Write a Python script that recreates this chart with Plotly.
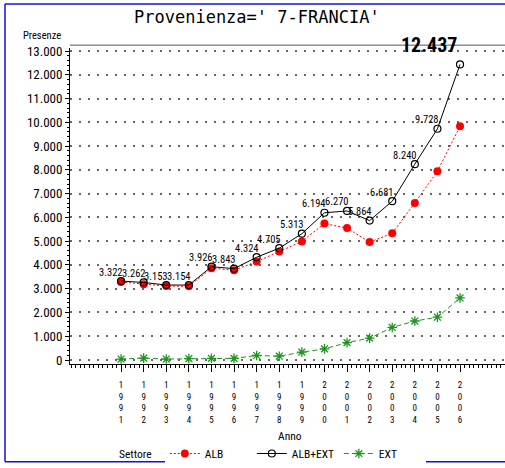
import plotly.graph_objects as go

years = list(range(1991, 2007))
alb_ext = [3322, 3262, 3153, 3154, 3926, 3843, 4324, 4705, 5313, 6194, 6270, 5864, 6681, 8240, 9728, 12437]
alb = [3280, 3190, 3110, 3100, 3860, 3780, 4140, 4560, 4990, 5740, 5550, 4960, 5330, 6610, 7940, 9830]
ext = [40, 80, 40, 60, 70, 70, 190, 160, 330, 470, 730, 920, 1370, 1640, 1800, 2610]
xtick_text = ["<br>".join(str(y)) for y in years]

NARROW = "Roboto Condensed, DejaVu Sans Condensed, sans-serif"

def fmt(v):
    return f"{v:,}".replace(",", ".")

fig = go.Figure()
fig.add_trace(go.Scatter(
    x=years, y=alb, name="ALB", mode="lines+markers",
    line=dict(color="#ff0000", width=1, dash="2px,2px"),
    marker=dict(symbol="circle", size=8, color="#ff0000"),
))
fig.add_trace(go.Scatter(
    x=years, y=alb_ext, name="ALB+EXT", mode="lines+markers",
    line=dict(color="#000000", width=1),
    marker=dict(symbol="circle-open", size=7, color="#000000", line=dict(width=1.2)),
))
fig.add_trace(go.Scatter(
    x=years, y=ext, name="EXT", mode="lines+markers",
    line=dict(color="#1e961e", width=1, dash="5px,3px"),
    marker=dict(symbol="asterisk-open", size=8, color="#1e961e", line=dict(width=1.3, color="#1e961e")),
))

annotations = []
for yr, v in zip(years[:-1], alb_ext[:-1]):
    annotations.append(dict(x=yr, y=v, xref="x", yref="y", text=fmt(v), showarrow=False,
                            xanchor="center", yanchor="middle", xshift=-10, yshift=9,
                            font=dict(family=NARROW, size=10.5, color="#000")))
annotations.append(dict(x=years[-1], y=1.0095, xref="x", yref="paper", text="<b>" + fmt(alb_ext[-1]) + "</b>",
                        showarrow=False, xanchor="center", yanchor="middle", xshift=-31,
                        font=dict(family=NARROW, size=20, color="#000")))
annotations.append(dict(x=-0.015, y=1.012, xref="paper", yref="paper", text="Presenze", showarrow=False,
                        xanchor="right", yanchor="bottom", font=dict(family=NARROW, size=10.5, color="#000")))
annotations.append(dict(x=0.505, y=-0.228, xref="paper", yref="paper", text="Anno", showarrow=False,
                        xanchor="center", yanchor="middle", font=dict(family=NARROW, size=11.5, color="#000")))
annotations.append(dict(x=0.108, y=-0.284, xref="paper", yref="paper", text="Settore", showarrow=False,
                        xanchor="left", yanchor="middle", font=dict(family=NARROW, size=11.5, color="#000")))
annotations.append(dict(x=0.43, y=1.098, xref="paper", yref="paper", text="Provenienza=' 7-FRANCIA'",
                        showarrow=False, xanchor="center", yanchor="middle",
                        font=dict(family="DejaVu Sans Mono, Liberation Mono, monospace", size=17, color="#000")))

fig.update_layout(
    width=505, height=468,
    margin=dict(l=70, r=0, t=48, b=103),
    paper_bgcolor="white", plot_bgcolor="white",
    separators=",.",
    showlegend=True,
    legend=dict(orientation="h", x=0.218, y=-0.284, xanchor="left", yanchor="middle",
                font=dict(family=NARROW, size=11.5, color="#000"),
                entrywidth=42, itemwidth=30),
    annotations=annotations,
    shapes=[
        dict(type="line", xref="paper", yref="paper", x0=-0.1494, x1=-0.1494, y0=1.139, y1=-0.309,
             line=dict(color="#1010e0", width=1.5)),
        dict(type="line", xref="paper", yref="paper", x0=-0.1494, x1=1.01, y0=1.139, y1=1.139,
             line=dict(color="#1010e0", width=1.5)),
        dict(type="line", xref="paper", yref="paper", x0=-0.1494, x1=1.01, y0=-0.309, y1=-0.309,
             line=dict(color="#1010e0", width=1.5)),
        dict(type="line", xref="paper", yref="paper", x0=0, x1=1, y0=1.009, y1=1.009,
             line=dict(color="#555", width=1)),
    ],
)

fig.update_xaxes(
    range=[1988.74, 2007.99], tickmode="array", tickvals=years, ticktext=xtick_text,
    ticks="outside", ticklen=7, tickcolor="#000", tickwidth=1, ticklabelstandoff=5,
    minor=dict(dtick=0.2, tick0=1991, ticks="outside", ticklen=3, tickcolor="#000", showgrid=False),
    showline=True, linecolor="#000", linewidth=1, mirror=False,
    showgrid=False, zeroline=False,
    tickfont=dict(family=NARROW, size=9, color="#000"),
)
fig.update_yaxes(
    range=[-168, 13126], tickmode="linear", tick0=0, dtick=1000, tickformat=",d",
    ticks="outside", ticklen=4, tickcolor="#000",
    minor=dict(dtick=200, ticks="outside", ticklen=2, tickcolor="#000", showgrid=False),
    showline=True, linecolor="#000", linewidth=1,
    showgrid=True, gridcolor="#666", gridwidth=1.5, griddash="1.5px,7.5px",
    zeroline=False,
    tickfont=dict(family=NARROW, size=13, color="#000"),
)

fig.write_html("out.html", config={"displayModeBar": False},
               post_script="document.body.style.margin='0px';")
